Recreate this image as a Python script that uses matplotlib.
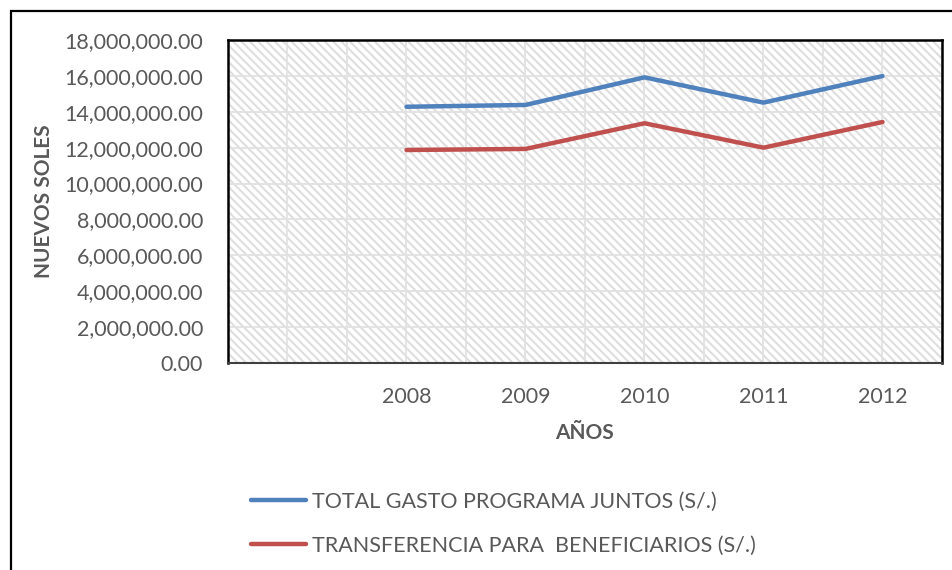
import matplotlib.pyplot as plt
from matplotlib.patches import Rectangle
from matplotlib.ticker import FuncFormatter, MultipleLocator

plt.rcParams['font.family'] = ['Lato', 'DejaVu Sans']
plt.rcParams['hatch.linewidth'] = 1.5

years = ['', '2008', '2009', '2010', '2011', '2012']
total_gasto = [None, 14280000, 14380000, 15920000, 14510000, 15990000]
transferencia = [None, 11870000, 11930000, 13360000, 12000000, 13430000]
labels = ['TOTAL GASTO PROGRAMA JUNTOS (S/.)',
          'TRANSFERENCIA PARA  BENEFICIARIOS (S/.)']
colors = ['#4F81BD', '#C0504D']

W, H = 953, 570
fig = plt.figure(figsize=(W / 100, H / 100), dpi=100)

# outer chart frame (left and top visible)
fig.patches.append(Rectangle((11 / W, -0.1), 1.2, 1 - 11 / H + 0.1,
                             transform=fig.transFigure, fill=False,
                             edgecolor='black', lw=1.6))

ax = fig.add_axes([228 / W, 1 - 363 / H, (942 - 228) / W, (363 - 40) / H])
ax.set_facecolor('white')
ax.add_patch(Rectangle((0, 0), 1, 1, transform=ax.transAxes, facecolor='white',
                       edgecolor='#dedede', hatch='\\\\\\\\', lw=0, zorder=0))

x = list(range(len(years)))
for series, lab, col in zip([total_gasto, transferencia], labels, colors):
    xs = [i for i, v in zip(x, series) if v is not None]
    ys = [v for v in series if v is not None]
    ax.plot(xs, ys, color=col, lw=3.2, label=lab, solid_capstyle='round', zorder=3)

ax.set_xlim(-0.5, len(years) - 0.5)
ax.set_ylim(0, 18000000)
ax.yaxis.set_major_locator(MultipleLocator(2000000))
ax.yaxis.set_major_formatter(FuncFormatter(lambda v, p: f'{v:,.2f}'))
ax.set_xticks(x)
ax.set_xticklabels(years)
ax.xaxis.set_minor_locator(MultipleLocator(0.5))

ax.grid(True, which='major', color='#e2e2e2', lw=1.3, zorder=1)
ax.grid(True, which='minor', axis='x', color='#e2e2e2', lw=1.3, zorder=1)
ax.set_axisbelow(True)

ax.tick_params(axis='both', which='both', length=0, labelsize=15.5, labelcolor='#595959')
ax.tick_params(axis='y', pad=18)
ax.tick_params(axis='x', pad=17)

for s in ['left', 'top', 'right']:
    ax.spines[s].set_color('black')
    ax.spines[s].set_linewidth(1.8)
ax.spines['bottom'].set_color('#404040')
ax.spines['bottom'].set_linewidth(1.5)

fig.text(44 / W, 1 - 201 / H, 'NUEVOS SOLES', rotation=90, ha='center', va='center',
         fontsize=15, fontweight='bold', color='#595959')
fig.text(584 / W, 1 - 433 / H, 'AÑOS', ha='center', va='center',
         fontsize=15, fontweight='bold', color='#595959')

leg = fig.legend(loc='upper left', bbox_to_anchor=(232 / W, 1 - 472 / H), frameon=False,
                 fontsize=15.5, handlelength=2.55, handletextpad=0.28, labelspacing=1.13,
                 labelcolor='#595959')

fig.savefig('out.png', dpi=100)
